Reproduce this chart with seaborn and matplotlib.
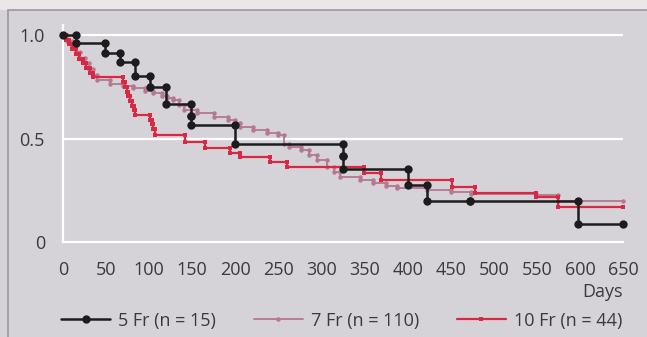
import pandas as pd
import matplotlib.pyplot as plt
import matplotlib.patches as mpatches
import seaborn as sns

# Kaplan-Meier style event data (day, survival after the step)
groups = ["5 Fr (n = 15)", "7 Fr (n = 110)", "10 Fr (n = 44)"]

days_5 = [15, 49, 66, 84, 101, 119, 148, 148, 200, 325, 325, 400, 423, 472, 598]
surv_5 = [0.96, 0.915, 0.87, 0.80, 0.75, 0.665, 0.61, 0.565, 0.475, 0.415, 0.353,
          0.275, 0.20, 0.20, 0.087]

days_7 = [5, 10, 15, 20, 25, 30, 35, 40, 55, 70, 81, 95, 105, 115, 121, 128, 135,
          140, 156, 175, 191, 200, 206, 221, 237, 249, 256, 262, 276, 285, 295,
          307, 315, 322, 345, 360, 375, 388, 423, 450, 473, 549, 575]
surv_7 = [0.973, 0.945, 0.918, 0.891, 0.864, 0.836, 0.809, 0.783, 0.765, 0.755,
          0.744, 0.73, 0.72, 0.705, 0.695, 0.686, 0.66, 0.638, 0.623, 0.604, 0.589,
          0.575, 0.556, 0.541, 0.527, 0.515, 0.475, 0.459, 0.444, 0.42, 0.396,
          0.362, 0.34, 0.314, 0.30, 0.285, 0.27, 0.26, 0.251, 0.24, 0.232, 0.225,
          0.20]

days_10 = [3, 7, 11, 15, 19, 23, 27, 31, 35, 70, 72, 74, 76, 78, 80, 82, 84,
           101, 103, 105, 107, 142, 165, 194, 206, 240, 260, 349, 369, 451, 478,
           549, 575]
surv_10 = [0.977, 0.955, 0.932, 0.909, 0.886, 0.864, 0.841, 0.818, 0.795, 0.773,
           0.75, 0.727, 0.705, 0.682, 0.659, 0.636, 0.614, 0.591, 0.568, 0.545,
           0.517, 0.483, 0.455, 0.43, 0.41, 0.386, 0.362, 0.333, 0.30, 0.266,
           0.237, 0.215, 0.17]

x_ticks = list(range(0, 651, 50))
y_ticks = [0, 0.5, 1.0]
y_labels = ["0", "0.5", "1.0"]
end_day = 650


def step_path(days, surv, name):
    # turn event list into the corner points of the step curve
    xs, ys = [0], [1.0]
    prev = 1.0
    for d, s in zip(days, surv):
        xs += [d, d]
        ys += [prev, s]
        prev = s
    xs.append(end_day)
    ys.append(prev)
    return pd.DataFrame({"day": xs, "surv": ys, "group": name})


df = pd.concat([step_path(days_5, surv_5, groups[0]),
                step_path(days_7, surv_7, groups[1]),
                step_path(days_10, surv_10, groups[2])], ignore_index=True)

colors = {groups[0]: "#1c1c1e", groups[1]: "#b4788f", groups[2]: "#d92844"}
styles = {groups[0]: dict(marker="o", markersize=6, linewidth=1.8),
          groups[1]: dict(marker="o", markersize=3.2, linewidth=1.3),
          groups[2]: dict(marker="s", markersize=3.2, linewidth=1.6)}

bg = "#d5d3d7"
txt = "#3a3a3e"
fs = 13
sns.set_style("white", {"axes.facecolor": bg, "figure.facecolor": bg})
plt.rcParams["font.family"] = ["Open Sans", "DejaVu Sans"]

fig = plt.figure(figsize=(6.47, 3.37), dpi=100)
ax = fig.add_axes([63 / 647, 1 - 242 / 337, 560 / 647, 207 * 1.05 / 337])

# page-like frame around the figure
fig.patches.append(mpatches.Rectangle((0, 1 - 10 / 337), 1, 10 / 337, transform=fig.transFigure,
                                      facecolor="#ebe7e9", edgecolor="none", zorder=0))
fig.patches.append(mpatches.Rectangle((8 / 647, -0.05), 1.1, 1 - 10 / 337 + 0.05,
                                      transform=fig.transFigure, facecolor="none",
                                      edgecolor="#9a989c", linewidth=1.2, zorder=0))

# draw the 7 Fr curve first so the others sit on top
for g in [groups[1], groups[2], groups[0]]:
    sub = df[df["group"] == g]
    sns.lineplot(data=sub, x="day", y="surv", ax=ax, sort=False, estimator=None,
                 color=colors[g], markeredgewidth=0, label=g, **styles[g])

for line in ax.lines:
    line.set_clip_on(False)

ax.set_xlim(0, 650)
ax.set_ylim(0, 1.05)
ax.set_xticks(x_ticks)
ax.set_xticklabels([str(t) for t in x_ticks])
ax.set_yticks(y_ticks)
ax.set_yticklabels(y_labels)
ax.set_xlabel("")
ax.set_ylabel("")

for y in [0.5, 1.0]:
    ax.axhline(y, color="white", linewidth=1.6, zorder=0)

for side in ["top", "right"]:
    ax.spines[side].set_visible(False)
for side in ["left", "bottom"]:
    ax.spines[side].set_color("white")
    ax.spines[side].set_linewidth(1.6)
    ax.spines[side].set_zorder(0)

ax.tick_params(axis="x", colors="white", length=5, width=1.2, direction="out",
               labelcolor=txt, labelsize=fs, pad=9)
ax.tick_params(axis="y", length=0, labelcolor=txt, labelsize=fs, pad=13)

ax.text(1.0, -0.19, "Days", transform=ax.transAxes, ha="right", va="top",
        fontsize=fs, color=txt)

handles, labels = ax.get_legend_handles_labels()
order = [labels.index(g) for g in groups]
ax.legend([handles[i] for i in order], [labels[i] for i in order],
          loc="upper center", bbox_to_anchor=(0.498, -0.245), ncol=3, frameon=False,
          fontsize=fs, handlelength=2.7, columnspacing=2.1, handletextpad=0.45,
          labelcolor=txt)

fig.savefig("out.png", dpi=100, facecolor=bg)
